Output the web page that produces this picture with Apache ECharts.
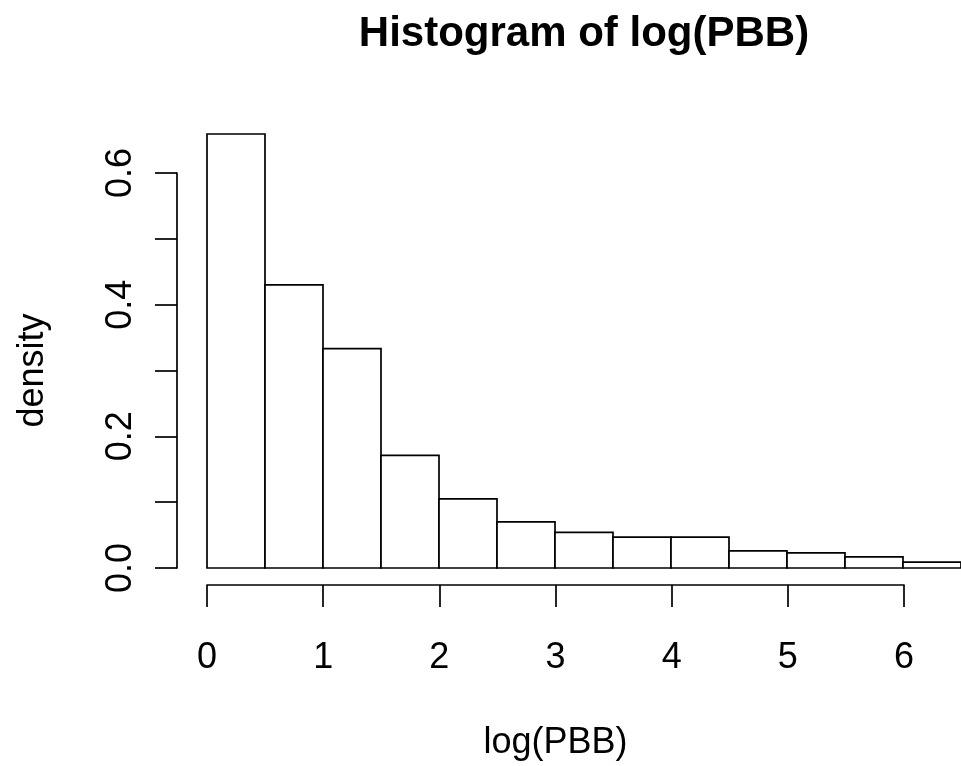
<!DOCTYPE html>
<html>
<head>
<meta charset="utf-8">
<script src="https://cdn.jsdelivr.net/npm/echarts@6/dist/echarts.min.js"></script>
<style>
  html, body { margin: 0; padding: 0; background: #fff; }
  #chart { width: 961px; height: 766px; }
</style>
</head>
<body>
<div id="chart"></div>
<script>
// histogram bins (left edges, width 0.5) and densities
var binStarts = [0, 0.5, 1, 1.5, 2, 2.5, 3, 3.5, 4, 4.5, 5, 5.5, 6];
var binWidth = 0.5;
var densities = [0.659, 0.430, 0.333, 0.171, 0.105, 0.070, 0.054, 0.047, 0.047, 0.026, 0.023, 0.017, 0.009];
var xTicks = [0, 1, 2, 3, 4, 5, 6];
var yTicks = [0, 0.1, 0.2, 0.3, 0.4, 0.5, 0.6];

var FONT = 'Liberation Sans, Arial, sans-serif';
var LW = 1.7;

var binData = binStarts.map(function (s, i) {
  return [s, s + binWidth, densities[i]];
});

var chart = echarts.init(document.getElementById('chart'));

var option = {
  backgroundColor: '#fff',
  animation: false,
  title: {
    text: 'Histogram of log(PBB)',
    left: 579,
    top: 8,
    textAlign: 'center',
    textStyle: { fontFamily: FONT, fontSize: 42, fontWeight: 'bold', color: '#000' }
  },
  grid: [
    // plot region for the bars
    { left: 207, top: 107, width: 755, height: 461 },
    // x axis drawn from 0 to 6 only
    { left: 207, top: 107, width: 697, height: 461 },
    // y axis drawn from 0 to 0.6 only
    { left: 207, top: 173, width: 697, height: 395 }
  ],
  xAxis: [
    { gridIndex: 0, type: 'value', min: 0, max: 6.5, show: false },
    {
      gridIndex: 1, type: 'value', min: 0, max: 6, interval: 1, offset: 18,
      axisLine: { show: true, onZero: false, lineStyle: { color: '#000', width: LW } },
      axisTick: { show: true, length: 22, lineStyle: { color: '#000', width: LW } },
      splitLine: { show: false },
      axisLabel: { margin: 55, fontFamily: FONT, fontSize: 36, color: '#000' },
      name: 'log(PBB)', nameLocation: 'middle', nameGap: 140,
      nameTextStyle: { fontFamily: FONT, fontSize: 36, color: '#000' }
    },
    { gridIndex: 2, type: 'value', min: 0, max: 6, show: false }
  ],
  yAxis: [
    { gridIndex: 0, type: 'value', min: 0, max: 0.7, show: false },
    { gridIndex: 1, type: 'value', min: 0, max: 0.7, show: false },
    {
      gridIndex: 2, type: 'value', min: 0, max: 0.6, interval: 0.1, offset: 30,
      axisLine: { show: true, onZero: false, lineStyle: { color: '#000', width: LW } },
      axisTick: { show: true, length: 22, lineStyle: { color: '#000', width: LW } },
      splitLine: { show: false },
      axisLabel: {
        margin: 38, rotate: 90, fontFamily: FONT, fontSize: 36, color: '#000',
        formatter: function (v) {
          return Math.round(v * 10) % 2 === 0 ? v.toFixed(1) : '';
        }
      },
      name: 'density', nameLocation: 'middle', nameGap: 126, nameRotate: 90,
      nameTextStyle: { fontFamily: FONT, fontSize: 36, color: '#000' }
    }
  ],
  series: [{
    type: 'custom',
    xAxisIndex: 0,
    yAxisIndex: 0,
    data: binData,
    renderItem: function (params, api) {
      var p0 = api.coord([api.value(0), 0]);
      var p1 = api.coord([api.value(1), api.value(2)]);
      return {
        type: 'rect',
        shape: { x: p0[0], y: p1[1], width: p1[0] - p0[0], height: p0[1] - p1[1] },
        style: { fill: '#fff', stroke: '#000', lineWidth: LW }
      };
    }
  }]
};

chart.setOption(option);
</script>
</body>
</html>
